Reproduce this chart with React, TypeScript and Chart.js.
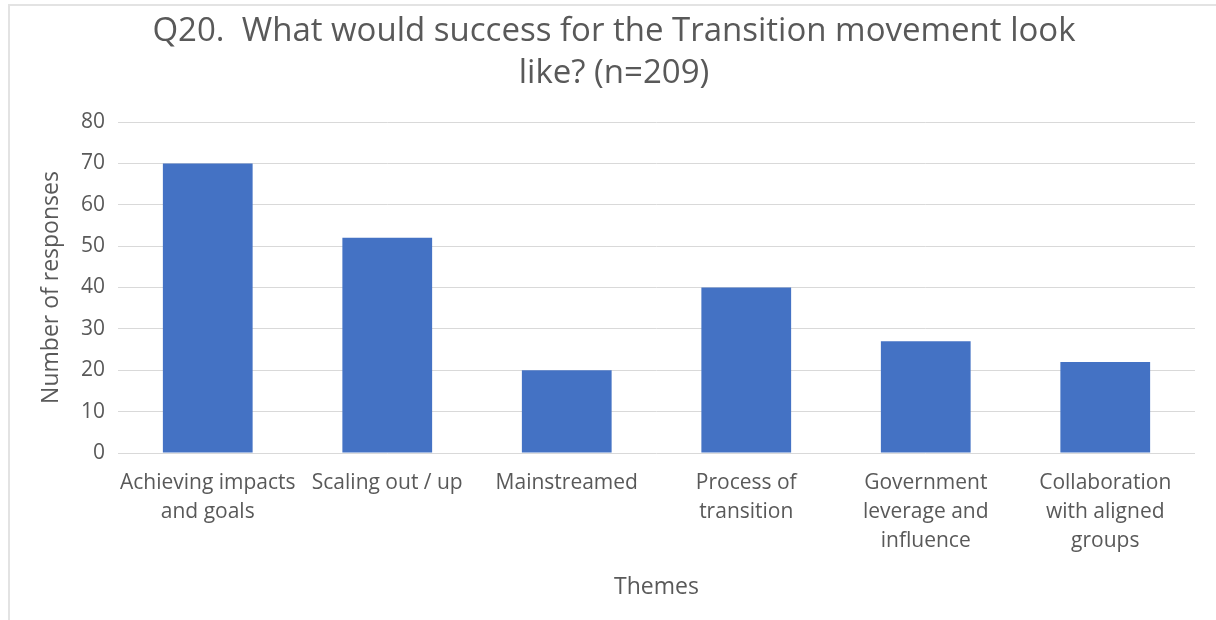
import React, { useEffect, useRef } from "react";
import { Chart, registerables } from "chart.js";

Chart.register(...registerables);

const titleLines = ["Q20.  What would success for the Transition movement look", "like? (n=209)"];
const categories: string[][] = [
  ["Achieving impacts", "and goals"],
  ["Scaling out / up"],
  ["Mainstreamed"],
  ["Process of", "transition"],
  ["Government", "leverage and", "influence"],
  ["Collaboration", "with aligned", "groups"],
];
const responses = [70, 52, 20, 40, 27, 22];
const yTitle = "Number of responses";
const xTitle = "Themes";

const FONT = "'Open Sans', sans-serif";
const TEXT = "#595959";
const GRID = "#d9d9d9";

const framePlugin = {
  id: "frame",
  beforeDraw(chart: any) {
    const ctx = chart.ctx;
    ctx.save();
    ctx.fillStyle = "#ffffff";
    ctx.fillRect(0, 0, chart.width, chart.height);
    ctx.strokeStyle = "#e3e3e3";
    ctx.lineWidth = 2;
    ctx.beginPath();
    ctx.moveTo(8, 5);
    ctx.lineTo(chart.width, 5);
    ctx.moveTo(9, 5);
    ctx.lineTo(9, chart.height);
    ctx.stroke();
    ctx.restore();
  },
};

export default function App() {
  const ref = useRef<HTMLCanvasElement>(null);
  useEffect(() => {
    if (!ref.current) return;
    const chart = new Chart(ref.current, {
      type: "bar",
      data: {
        labels: categories,
        datasets: [
          {
            data: responses,
            backgroundColor: "#4472C4",
            borderWidth: 0,
            barPercentage: 1,
            categoryPercentage: 0.5,
          },
        ],
      },
      plugins: [framePlugin],
      options: {
        animation: false,
        responsive: false,
        layout: { padding: { left: 33, right: 21, top: 0, bottom: 10 } },
        plugins: {
          legend: { display: false },
          tooltip: { enabled: false },
          title: {
            display: true,
            text: titleLines,
            color: TEXT,
            font: { family: FONT, size: 33, weight: "normal", lineHeight: 42 / 33 },
            padding: { top: 11, bottom: 27 },
          },
        },
        scales: {
          x: {
            grid: { display: false, drawTicks: false },
            border: { display: false },
            ticks: {
              color: TEXT,
              font: { family: FONT, size: 21, lineHeight: 29 / 21 },
              padding: 16,
              maxRotation: 0,
              autoSkip: false,
            },
            title: {
              display: true,
              text: xTitle,
              color: TEXT,
              font: { family: FONT, size: 23, lineHeight: 1.2 },
              padding: { top: 0, bottom: 9 },
            },
            afterFit(scale: any) {
              scale.height = 157;
            },
          },
          y: {
            min: 0,
            max: 80,
            ticks: {
              stepSize: 10,
              color: TEXT,
              font: { family: FONT, size: 21 },
              padding: 13,
            },
            grid: { color: GRID, lineWidth: 1, drawTicks: false },
            border: { display: false },
            title: {
              display: true,
              text: yTitle,
              color: TEXT,
              font: { family: FONT, size: 23, lineHeight: 1.2 },
              padding: { top: 5, bottom: 0 },
            },
            afterFit(scale: any) {
              scale.width = 85;
            },
          },
        },
      },
    } as any);
    return () => chart.destroy();
  }, []);
  return (
    <div style={{ position: "absolute", left: 0, top: 0, width: 1216, height: 620 }}>
      <canvas ref={ref} width={1216} height={620} style={{ width: 1216, height: 620, display: "block" }} />
    </div>
  );
}
